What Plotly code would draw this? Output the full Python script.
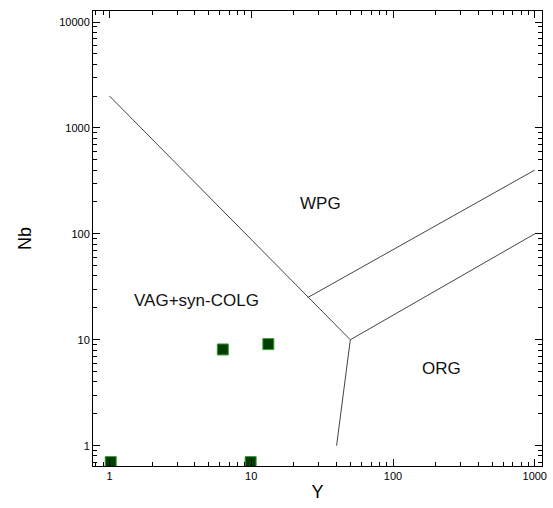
import numpy as np
import plotly.graph_objects as go

# Sample analyses (Y, Nb in ppm)
sample_y = [1.02, 9.9, 6.3, 13.2]
sample_nb = [0.70, 0.70, 8.1, 9.1]

# Pearce et al. (1984) discrimination boundaries
boundaries = {
    "vag_wpg": ([1, 50], [2000, 10]),
    "wpg_org": ([25, 1000], [25, 400]),
    "org_upper": ([50, 1000], [10, 100]),
    "vag_org": ([50, 40], [10, 1]),
}

# Field labels
field_names = ["WPG", "VAG+syn-COLG", "ORG"]
field_x = [31, 4.1, 220]
field_y = [195, 23.5, 5.4]

x_major = [1, 10, 100, 1000]
y_major = [1, 10, 100, 1000, 10000]
x_minor = [m * 10 ** d for d in range(-1, 4) for m in range(2, 10)]
y_minor = [m * 10 ** d for d in range(-1, 5) for m in range(2, 10)]

x_range = [np.log10(0.765), np.log10(1125)]
y_range = [np.log10(0.643), np.log10(12700)]

FONT = "Liberation Sans, Arial, sans-serif"

fig = go.Figure()

for name, (bx, by) in boundaries.items():
    fig.add_trace(go.Scatter(
        x=bx, y=by, mode="lines", name=name,
        line=dict(color="#444444", width=1),
        showlegend=False, hoverinfo="skip",
    ))

fig.add_trace(go.Scatter(
    x=sample_y, y=sample_nb, mode="markers", name="samples",
    marker=dict(symbol="square", size=11, color="#023d02",
                line=dict(color="#3c9a3c", width=1)),
    showlegend=False,
))

# empty trace so the minor-tick overlay axes get drawn
fig.add_trace(go.Scatter(x=[None], y=[None], xaxis="x2", yaxis="y2",
                         mode="markers", showlegend=False, hoverinfo="skip"))

for name, fx, fy in zip(field_names, field_x, field_y):
    fig.add_annotation(x=np.log10(fx), y=np.log10(fy), text=name,
                       showarrow=False,
                       font=dict(size=17, color="#111111", family=FONT))

tick_font = dict(size=11, color="black", family=FONT)
title_font = dict(size=18, color="black", family=FONT)

fig.update_layout(
    width=553, height=508,
    margin=dict(l=93, r=6, t=11, b=42),
    paper_bgcolor="white",
    plot_bgcolor="white",
    xaxis=dict(
        type="log", range=x_range, showgrid=False, zeroline=False,
        showline=True, linecolor="black", mirror="ticks",
        ticks="inside", ticklen=7, tickcolor="black",
        tickvals=x_major, ticktext=[str(v) for v in x_major],
        ticklabeloverflow="allow",
        tickfont=tick_font,
        title=dict(text="Y", standoff=4, font=title_font),
    ),
    yaxis=dict(
        type="log", range=y_range, showgrid=False, zeroline=False,
        showline=True, linecolor="black", mirror="ticks",
        ticks="inside", ticklen=7, tickcolor="black",
        tickvals=y_major, ticktext=[str(v) for v in y_major],
        tickfont=tick_font,
        title=dict(text="Nb", standoff=22, font=title_font),
    ),
    xaxis2=dict(
        type="log", range=x_range, showgrid=False, zeroline=False,
        showline=False, mirror="ticks",
        ticks="inside", ticklen=4, tickcolor="black",
        tickvals=x_minor, showticklabels=False,
        overlaying="x", anchor="y2",
    ),
    yaxis2=dict(
        type="log", range=y_range, showgrid=False, zeroline=False,
        showline=False, mirror="ticks",
        ticks="inside", ticklen=4, tickcolor="black",
        tickvals=y_minor, showticklabels=False,
        overlaying="y", anchor="x2",
    ),
)

fig.write_html("out.html")
